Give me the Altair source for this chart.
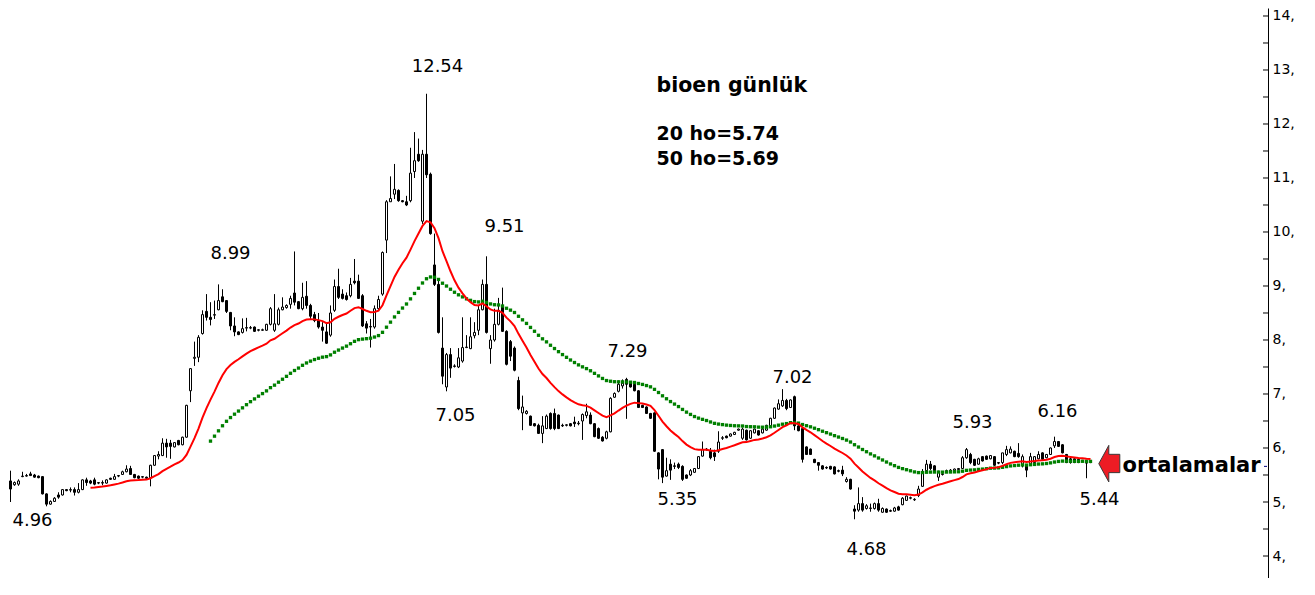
import altair as alt
import pandas as pd

# ---- candle data ----
opens = [5.39,5.32,5.33,5.47,5.48,5.52,5.50,5.48,5.47,5.15,4.96,5.01,5.13,5.13,5.23,5.22,5.23,5.18,5.23,5.41,
         5.39,5.41,5.35,5.35,5.35,5.44,5.42,5.48,5.51,5.56,5.62,5.51,5.48,5.46,5.46,5.45,5.68,5.85,5.86,6.09,
         6.09,6.02,6.14,6.06,6.20,7.06,7.66,7.68,8.12,8.53,8.42,8.46,8.56,8.80,8.73,8.51,8.26,8.15,8.14,8.22,
         8.22,8.24,8.18,8.18,8.18,8.29,8.18,8.29,8.56,8.60,8.66,8.87,8.71,8.58,8.81,8.64,8.47,8.36,8.24,8.15,
         8.09,8.55,8.99,8.85,8.82,8.82,9.09,9.09,8.82,8.30,8.24,8.24,8.58,8.85,9.85,10.56,10.70,10.77,10.58,10.56,
         10.58,11.12,11.44,10.20,11.44,11.07,9.39,9.03,7.85,7.13,7.73,7.51,7.50,7.61,7.86,7.84,8.08,8.18,8.56,9.03,
         7.84,8.00,8.29,8.64,8.16,7.97,7.85,7.25,6.65,6.64,6.59,6.45,6.42,6.27,6.36,6.64,6.64,6.61,6.42,6.42,
         6.45,6.48,6.45,6.50,6.60,6.61,6.45,6.36,6.20,6.18,6.30,6.94,7.05,7.15,7.27,7.21,7.18,7.06,6.79,6.76,
         6.64,6.65,5.91,5.97,5.48,5.70,5.67,5.70,5.66,5.50,5.50,5.55,5.62,5.85,5.97,5.94,5.91,5.94,6.18,6.22,
         6.22,6.25,6.33,6.18,6.33,6.18,6.28,6.32,6.28,6.33,6.41,6.55,6.72,6.78,6.88,6.75,6.95,6.41,6.36,6.02,
         5.98,5.79,5.73,5.67,5.64,5.66,5.65,5.58,5.59,5.38,5.42,4.87,4.85,4.97,4.88,4.88,4.88,4.97,4.81,4.87,
         4.84,4.83,4.91,4.95,5.03,5.07,5.04,5.12,5.29,5.58,5.70,5.67,5.46,5.51,5.55,5.56,5.58,5.60,5.62,5.82,
         5.88,5.79,5.70,5.84,5.85,5.80,5.84,5.73,5.73,5.88,5.91,5.94,5.90,5.67,5.68,5.68,5.73,5.80,5.91,5.82,
         5.88,6.04,6.12,6.06,5.88,5.80,5.80,5.79,5.76,5.77,5.73]
highs = [5.58,5.38,5.42,5.56,5.52,5.56,5.52,5.49,5.48,5.16,5.03,5.09,5.18,5.24,5.24,5.27,5.27,5.35,5.42,5.45,
         5.41,5.45,5.37,5.40,5.42,5.45,5.52,5.50,5.58,5.68,5.67,5.52,5.49,5.48,5.47,5.69,5.87,5.94,6.18,6.17,
         6.15,6.11,6.15,6.21,6.80,7.48,7.97,8.09,8.55,8.85,8.70,8.73,9.03,8.94,8.74,8.52,8.42,8.16,8.40,8.41,
         8.26,8.25,8.20,8.21,8.30,8.61,8.85,8.60,8.79,8.66,8.82,9.64,8.72,9.06,9.09,8.67,8.52,8.50,8.33,8.33,
         8.64,9.12,9.32,8.94,8.88,9.15,9.50,9.21,8.85,8.35,8.39,8.64,8.82,9.64,10.59,11.03,11.26,10.79,10.59,10.67,
         11.56,11.85,11.73,11.52,12.56,11.10,9.97,9.12,8.42,7.76,7.85,7.55,7.85,8.42,8.09,8.42,8.33,8.64,9.12,9.55,
         8.09,8.58,8.78,8.97,8.18,8.00,7.88,7.32,6.97,6.70,6.60,6.46,6.45,6.59,6.62,6.66,6.73,6.62,6.45,6.44,
         6.46,6.58,6.50,6.64,6.82,6.66,6.46,6.38,6.22,6.32,6.94,7.03,7.25,7.27,7.30,7.22,7.19,7.07,6.80,6.77,
         6.65,6.66,5.92,5.98,5.82,5.79,5.73,5.73,5.68,5.51,5.61,5.63,5.85,6.12,6.00,6.00,5.97,6.31,6.22,6.23,
         6.27,6.30,6.36,6.38,6.34,6.33,6.36,6.33,6.39,6.43,6.56,6.75,6.90,7.09,6.91,6.90,6.97,6.42,6.39,6.03,
         5.99,5.80,5.74,5.68,5.66,5.67,5.66,5.60,5.67,5.46,5.43,4.94,5.27,5.09,4.96,4.97,4.99,5.06,4.90,4.88,
         4.86,4.91,4.93,5.09,5.12,5.10,5.07,5.30,5.61,5.78,5.76,5.68,5.58,5.54,5.60,5.61,5.62,5.63,5.85,6.00,
         5.91,5.80,5.82,5.85,5.86,5.87,5.85,5.74,5.91,6.04,6.03,5.95,6.09,5.88,5.70,5.91,5.85,5.94,5.92,5.89,
         6.01,6.21,6.13,6.07,5.89,5.82,5.81,5.80,5.78,5.78,5.75]
lows = [5.00,5.30,5.30,5.46,5.47,5.48,5.45,5.44,5.14,4.92,4.95,5.00,5.06,5.12,5.20,5.18,5.12,5.16,5.22,5.30,
        5.33,5.31,5.33,5.31,5.34,5.41,5.41,5.46,5.50,5.55,5.50,5.44,5.43,5.44,5.43,5.29,5.67,5.79,5.85,5.82,
        5.80,6.01,6.05,6.05,6.19,6.85,7.52,7.59,8.10,8.36,8.27,8.39,8.55,8.70,8.50,8.18,8.07,8.09,8.12,8.16,
        8.20,8.15,8.16,8.17,8.17,8.27,8.15,8.27,8.55,8.58,8.58,8.64,8.57,8.55,8.58,8.39,8.33,8.21,7.97,7.93,
        8.06,8.52,8.76,8.75,8.73,8.79,9.03,8.76,8.24,8.12,7.86,8.21,8.55,8.82,9.61,10.56,10.61,10.56,10.55,10.48,
        10.55,11.00,11.30,10.15,11.00,9.95,9.00,8.12,7.18,7.05,7.30,7.49,7.48,7.58,7.85,7.83,8.03,8.09,8.55,8.12,
        7.56,7.97,8.27,8.15,7.53,7.61,7.42,6.70,6.33,6.62,6.41,6.40,6.26,6.09,6.35,6.34,6.33,6.35,6.39,6.40,
        6.40,6.39,6.42,6.15,6.55,6.44,6.20,6.17,6.12,6.16,6.29,6.93,7.03,7.10,6.54,7.12,7.05,6.74,6.74,6.63,
        6.54,5.93,5.42,5.35,5.47,5.41,5.61,5.61,5.39,5.43,5.48,5.54,5.61,5.84,5.95,5.79,5.76,5.91,6.15,6.18,
        6.21,6.24,6.32,6.15,6.14,6.17,6.27,6.23,6.27,6.32,6.40,6.54,6.71,6.76,6.70,6.74,6.33,6.31,5.73,5.87,
        5.87,5.72,5.58,5.60,5.61,5.60,5.51,5.55,5.48,5.36,5.23,4.68,4.82,4.82,4.86,4.82,4.86,4.82,4.80,4.80,
        4.82,4.82,4.84,4.94,5.02,5.05,5.02,5.09,5.28,5.54,5.59,5.57,5.39,5.49,5.54,5.55,5.57,5.59,5.61,5.80,
        5.70,5.67,5.69,5.75,5.78,5.79,5.67,5.70,5.70,5.85,5.90,5.83,5.82,5.64,5.46,5.67,5.72,5.79,5.78,5.81,
        5.87,6.00,6.02,5.90,5.72,5.71,5.72,5.72,5.74,5.44,5.72]
closes = [5.24,5.36,5.39,5.48,5.49,5.49,5.46,5.45,5.15,4.96,5.01,5.07,5.09,5.23,5.21,5.23,5.18,5.23,5.41,5.36,
          5.35,5.33,5.36,5.36,5.41,5.42,5.47,5.49,5.56,5.61,5.51,5.45,5.44,5.47,5.44,5.68,5.86,5.88,6.09,6.02,
          6.03,6.10,6.06,6.20,6.79,7.47,7.68,8.05,8.47,8.42,8.38,8.47,8.73,8.71,8.53,8.26,8.15,8.10,8.21,8.23,
          8.23,8.16,8.19,8.19,8.29,8.58,8.30,8.56,8.61,8.64,8.77,8.70,8.58,8.79,8.64,8.44,8.36,8.24,8.18,7.94,
          8.50,8.99,8.79,8.77,8.75,9.03,9.06,8.77,8.26,8.22,8.25,8.58,8.75,9.62,10.56,10.62,10.79,10.58,10.56,10.50,
          11.09,11.32,11.32,11.44,11.06,9.97,9.03,8.14,7.33,7.73,7.48,7.52,7.67,7.86,7.87,8.06,8.14,8.56,9.03,8.14,
          8.00,8.29,8.55,8.16,7.55,7.70,7.44,6.73,6.76,6.68,6.42,6.41,6.27,6.41,6.59,6.36,6.36,6.36,6.41,6.43,
          6.41,6.45,6.46,6.62,6.67,6.45,6.21,6.18,6.13,6.30,6.92,7.01,7.18,7.20,7.18,7.13,7.06,6.75,6.75,6.64,
          6.55,5.94,5.61,5.46,5.58,5.59,5.66,5.64,5.42,5.44,5.58,5.62,5.84,5.97,5.98,5.82,5.84,6.11,6.19,6.19,
          6.26,6.29,6.35,6.35,6.15,6.32,6.35,6.24,6.35,6.42,6.55,6.74,6.82,6.88,6.73,6.89,6.41,6.32,5.79,5.88,
          5.88,5.73,5.68,5.61,5.63,5.61,5.52,5.57,5.52,5.42,5.24,4.83,4.97,4.85,4.93,4.89,4.97,4.85,4.88,4.81,
          4.83,4.89,4.85,5.07,5.11,5.08,5.05,5.24,5.55,5.70,5.62,5.58,5.55,5.52,5.58,5.59,5.61,5.62,5.82,5.97,
          5.73,5.68,5.80,5.76,5.79,5.86,5.68,5.72,5.91,5.97,5.98,5.84,5.84,5.84,5.59,5.84,5.84,5.88,5.79,5.88,
          6.00,6.12,6.03,5.91,5.73,5.73,5.73,5.73,5.77,5.72,5.74]

# ---- annotations ----
label_texts = ["12.54", "8.99", "9.51", "7.05", "7.29", "7.02", "5.35", "4.68", "5.93", "6.16", "5.44", "4.96"]
label_idx = [106.75, 55.0, 123.5, 111.25, 154.25, 195.5, 166.75, 214.0, 240.5, 261.75, 272.25, 5.5]
label_val = [13.05, 9.60, 10.09, 6.60, 7.78, 7.29, 5.04, 4.11, 6.47, 6.67, 5.04, 4.64]

title_text = ["bioen günlük"]
title_idx = [161.5]
title_val = [12.70]

info_texts = ["20 ho=5.74", "50 ho=5.69"]
info_idx = [161.5, 161.5]
info_val = [11.81, 11.35]

side_text = ["ortalamalar"]
side_idx = [278.0]
side_val = [5.67]

arrow_idx = [274.7]
arrow_val = [5.71]

price_marker = [5.66]

axis_values = [4, 5, 6, 7, 8, 9, 10, 11, 12, 13, 14]
tick_values = [4.0, 4.5, 5.0, 5.5, 6.0, 6.5, 7.0, 7.5, 8.0, 8.5, 9.0, 9.5, 10.0,
               10.5, 11.0, 11.5, 12.0, 12.5, 13.0, 13.5, 14.0]

# ---- tables ----
df = pd.DataFrame({"idx": list(range(len(closes))), "open": opens, "high": highs,
                   "low": lows, "close": closes})
df["ema20"] = df["close"].ewm(span=20, adjust=False).mean()
df["ema50"] = df["close"].ewm(span=50, adjust=False).mean()

labels_df = pd.DataFrame({"text": label_texts, "idx": label_idx, "val": label_val})
title_df = pd.DataFrame({"text": title_text, "idx": title_idx, "val": title_val})
info_df = pd.DataFrame({"text": info_texts, "idx": info_idx, "val": info_val})
side_df = pd.DataFrame({"text": side_text, "idx": side_idx, "val": side_val})
arrow_df = pd.DataFrame({"idx": arrow_idx, "val": arrow_val})
ticks_df = pd.DataFrame({"v": tick_values})
marker_df = pd.DataFrame({"v": price_marker, "x0": [313.375], "x1": [314.125]})

FONT = "DejaVu Sans"
xs = alt.Scale(domain=[-0.625, 314.375], nice=False, zero=False, padding=0)
ys = alt.Scale(domain=[3.5926, 14.1481], nice=False, zero=False, padding=0)
yaxis = alt.Axis(orient="right", values=axis_values, labelExpr="datum.value + ','",
                 ticks=False, tickSize=0, grid=False, domain=True, domainColor="black",
                 domainWidth=1, labelFont=FONT, labelFontSize=14, labelColor="black",
                 labelPadding=4, title="")


def X(field):
    return alt.X(field, type="quantitative", scale=xs, axis=None)


def Y(field):
    return alt.Y(field, type="quantitative", scale=ys, axis=yaxis, title="")


ticks = alt.Chart(ticks_df).mark_rule(color="black", strokeWidth=1).encode(
    y=Y("v"), x=alt.value(1255), x2=alt.value(1260))

wick = alt.Chart(df).mark_rule(color="black", strokeWidth=1).encode(
    x=X("idx"), y=Y("low"), y2="high")

body = alt.Chart(df).mark_bar(size=2, stroke="black", strokeWidth=1).encode(
    x=X("idx"), y=Y("open"), y2="close",
    fill=alt.condition("datum.close >= datum.open", alt.value("white"), alt.value("black")))

green = alt.Chart(df).transform_filter("datum.idx >= 50").mark_square(
    size=11, color="#008000", opacity=1, filled=True).encode(x=X("idx"), y=Y("ema50"))

red = alt.Chart(df).transform_filter("datum.idx >= 20").mark_line(
    color="#ff0000", strokeWidth=2).encode(x=X("idx"), y=Y("ema20"))

labels = alt.Chart(labels_df).mark_text(font=FONT, fontSize=18, color="black",
                                        align="center", baseline="middle").encode(
    x=X("idx"), y=Y("val"), text="text:N")

title = alt.Chart(title_df).mark_text(font=FONT, fontSize=20.5, fontWeight="bold", color="black",
                                      align="left", baseline="middle").encode(
    x=X("idx"), y=Y("val"), text="text:N")

info = alt.Chart(info_df).mark_text(font=FONT, fontSize=19, fontWeight="bold", color="black",
                                    align="left", baseline="middle").encode(
    x=X("idx"), y=Y("val"), text="text:N")

side = alt.Chart(side_df).mark_text(font=FONT, fontSize=21, fontWeight="bold", color="black",
                                    align="left", baseline="middle").encode(
    x=X("idx"), y=Y("val"), text="text:N")

arrow_path = "M -0.574 0 L -0.027 -1 L -0.027 -0.51 L 0.574 -0.51 L 0.574 0.49 L -0.027 0.49 L -0.027 1 Z"
arrow = alt.Chart(arrow_df).mark_point(shape=arrow_path, size=1340, filled=True, fill="#ed1c24",
                                       stroke="#3a3a3a", strokeWidth=1, opacity=1).encode(
    x=X("idx"), y=Y("val"))

marker = alt.Chart(marker_df).mark_rule(color="#000080", strokeWidth=1).encode(
    x=X("x0"), x2="x1", y=Y("v"))

chart = alt.layer(ticks, wick, body, green, red, labels, title, info, side, arrow, marker).properties(
    width=1260, height=570,
    autosize=alt.AutoSizeParams(type="none"),
    padding={"left": 0, "top": 0, "right": 30, "bottom": 0},
    background="white",
).configure_view(strokeWidth=0)

chart.save("out.html", embed_options={"renderer": "svg", "actions": False})
